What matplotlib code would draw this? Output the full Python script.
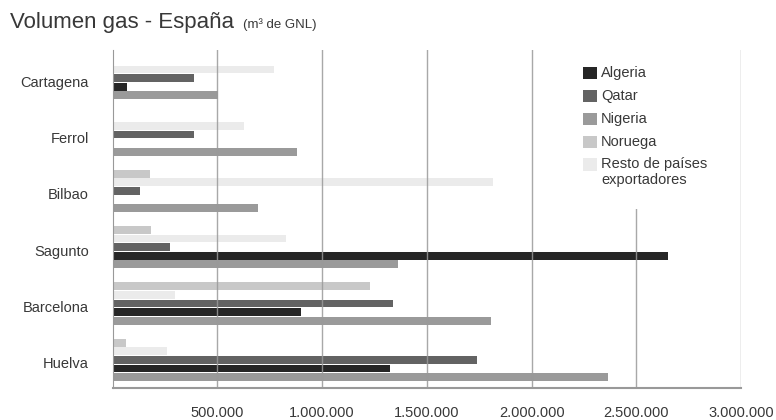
import numpy as np
import matplotlib
matplotlib.use("Agg")
import matplotlib.pyplot as plt
import matplotlib.transforms as mtransforms
from matplotlib.patches import Rectangle

plt.rcParams['font.family'] = ['Liberation Sans', 'DejaVu Sans']

# volumen por terminal, en m3 de GNL (de arriba a abajo)
ciudades = ["Cartagena", "Ferrol", "Bilbao", "Sagunto", "Barcelona", "Huelva"]
algeria = [70000, 0, 0, 2650000, 900000, 1325000]
qatar = [390000, 388000, 130000, 272000, 1340000, 1738000]
nigeria = [505000, 880000, 692000, 1364000, 1807000, 2367000]
noruega = [0, 0, 178000, 181000, 1230000, 65000]
resto = [772000, 628000, 1816000, 826000, 296000, 258000]

paises = ["Algeria", "Qatar", "Nigeria", "Noruega", "Resto de países\nexportadores"]
colores = ["#262626", "#636363", "#9a9a9a", "#c8c8c8", "#ebebeb"]
xticks = [500000, 1000000, 1500000, 2000000, 2500000, 3000000]

GRIS = "#999999"
TEXTO = "#383838"

fig = plt.figure(figsize=(7.76, 4.2), dpi=100)
ax = fig.add_axes([0.1452, 0.0762, 0.8098, 0.8048])

y = np.arange(len(ciudades))[::-1]
paso = 0.153
alto = 0.14
# orden de las barras dentro de cada grupo, de abajo a arriba
series = [(nigeria, 2, -2), (algeria, 0, -1), (qatar, 1, 0), (resto, 4, 1), (noruega, 3, 2)]
for valores, c, k in series:
    ax.barh(y + k * paso, valores, height=alto, color=colores[c], zorder=2)

ax.set_xlim(0, 3000000)
ax.set_ylim(-0.5, len(ciudades) - 0.5)
ax.set_xticks(xticks)
ax.set_xticklabels([f"{v:,}".replace(",", ".") for v in xticks])
ax.set_yticks(y)
ax.set_yticklabels(ciudades)
ax.tick_params(axis='x', length=0, pad=13, labelsize=10.5, labelcolor=TEXTO)
ax.tick_params(axis='y', length=0, pad=17, labelsize=10.5, labelcolor=TEXTO)
off = mtransforms.ScaledTranslation(0, -0.03, fig.dpi_scale_trans)
for lbl in ax.get_yticklabels():
    lbl.set_transform(lbl.get_transform() + off)

for v in xticks:
    ax.axvline(v, color=GRIS, lw=1, zorder=3, alpha=0.85)

for s in ["top", "right"]:
    ax.spines[s].set_visible(False)
ax.spines["left"].set_color(GRIS)
ax.spines["bottom"].set_color(GRIS)
ax.spines["bottom"].set_linewidth(1.5)

# leyenda a mano, con fondo blanco sobre la rejilla
ax.add_patch(Rectangle((0.73, 0.53), 0.2, 0.47, transform=ax.transAxes,
                       facecolor="white", edgecolor="none", zorder=4, clip_on=False))
lx, ly0, dy = 0.749, 0.931, 0.0675
for i, (nombre, col) in enumerate(zip(paises, colores)):
    yc = ly0 - i * dy
    ax.add_patch(Rectangle((lx, yc - 0.018), 0.0213, 0.036, transform=ax.transAxes,
                           facecolor=col, edgecolor="none", zorder=5))
    ax.text(lx + 0.0283, yc + 0.021, nombre, transform=ax.transAxes, fontsize=10.5,
            color=TEXTO, va="top", ha="left", linespacing=1.15, zorder=5)

titulo = fig.text(10 / 776, 1 - 28.3 / 420, "Volumen gas - España", fontsize=16,
                  color=TEXTO, va="baseline", ha="left")
r = fig.canvas.get_renderer()
x1 = titulo.get_window_extent(r).x1 / fig.bbox.width
fig.text(x1 + 9 / 776, 1 - 28.3 / 420, "(m³ de GNL)", fontsize=9.5,
         color=TEXTO, va="baseline", ha="left")

fig.savefig("out.png", dpi=100)
